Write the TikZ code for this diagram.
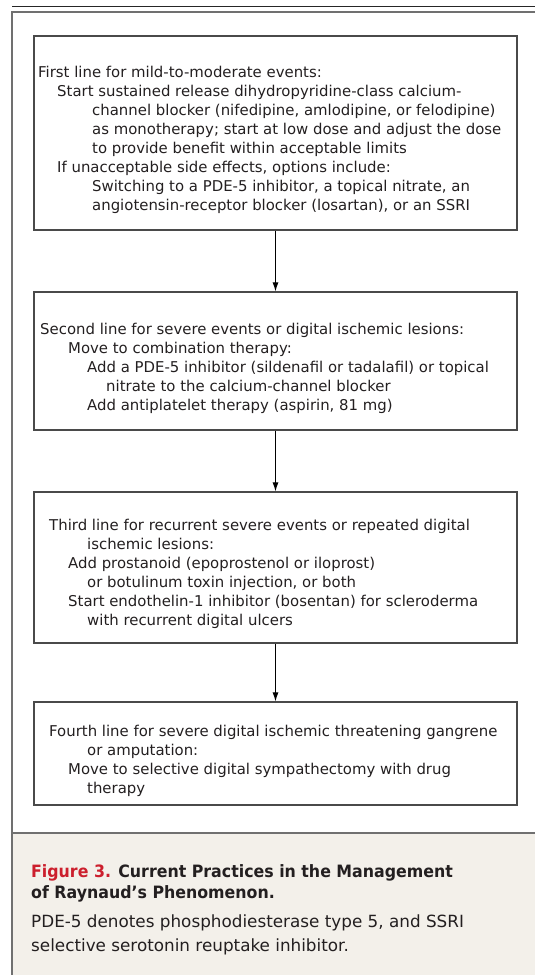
\documentclass[tikz,border=0pt]{standalone}
\usepackage{fontspec}
\setmainfont{DejaVu Sans}
\newfontfamily\titlefont[FakeStretch=0.93]{DejaVu Sans}
\usetikzlibrary{arrows.meta}
\definecolor{framecol}{HTML}{707070}
\definecolor{boxline}{HTML}{4A4A4A}
\definecolor{capbg}{HTML}{F3F0EA}
\definecolor{figred}{HTML}{CC1F2D}
\definecolor{txt}{HTML}{231F20}
\newcommand{\boxfont}{\fontsize{14.9}{19}\selectfont}
\newcommand{\capfont}{\fontsize{16.8}{22}\selectfont}
\newcommand{\captitlefont}{\fontsize{17}{22}\selectfont\titlefont\bfseries}
\begin{document}
\begin{tikzpicture}[x=1pt,y=-1pt,
  stepbox/.style={draw=boxline, line width=1.2pt, inner sep=0pt, minimum width=483pt},
  ln/.style={anchor=base west, inner sep=0pt, font=\boxfont, text=txt},
  captxt/.style={anchor=base west, inner sep=0pt, font=\capfont, text=txt},
  captitle/.style={anchor=base west, inner sep=0pt, font=\captitlefont, text=txt},
  flow/.style={draw=black, line width=1pt, -{Latex[length=9pt,width=6pt]}}
]
\useasboundingbox (0,0) rectangle (535,975);
\fill[capbg] (12,833) rectangle (535,975);
\draw[line width=1pt, draw=black!85] (12,6) -- (535,6);
\draw[framecol, line width=1.6pt] (535,12) -- (12,12) -- (12,975);
\draw[framecol, line width=1.8pt] (12,833) -- (535,833);

\node[stepbox, minimum height=194pt] (b1) at (275.5,133) {};
\node[stepbox, minimum height=138pt] (b2) at (275.5,361) {};
\node[stepbox, minimum height=151pt] (b3) at (275.5,567.5) {};
\node[stepbox, minimum height=103pt] (b4) at (275.5,753.5) {};

\draw[flow] (b1) -- (b2);
\draw[flow] (b2) -- (b3);
\draw[flow] (b3) -- (b4);

% box 1
\node[ln] (t1a) at (38,77) {First line for mild-to-moderate events:};
\node[ln] (t1b) at (57,96) {Start sustained release dihydropyridine-class calcium-};
\node[ln] (t1c) at (92,115) {channel blocker (nifedipine, amlodipine, or felodipine)};
\node[ln] (t1d) at (92,134) {as monotherapy; start at low dose and adjust the dose};
\node[ln] (t1e) at (92,153) {to provide benefit within acceptable limits};
\node[ln] (t1f) at (57,172) {If unacceptable side effects, options include:};
\node[ln] (t1g) at (92,191) {Switching to a PDE-5 inhibitor, a topical nitrate, an};
\node[ln] (t1h) at (92,210) {angiotensin-receptor blocker (losartan), or an SSRI};

% box 2
\node[ln] (t2a) at (40,334) {Second line for severe events or digital ischemic lesions:};
\node[ln] (t2b) at (68,353) {Move to combination therapy:};
\node[ln] (t2c) at (87,372) {Add a PDE-5 inhibitor (sildenafil or tadalafil) or topical};
\node[ln] (t2d) at (106,391) {nitrate to the calcium-channel blocker};
\node[ln] (t2e) at (87,410) {Add antiplatelet therapy (aspirin, 81 mg)};

% box 3
\node[ln] (t3a) at (49,530) {Third line for recurrent severe events or repeated digital};
\node[ln] (t3b) at (87,549) {ischemic lesions:};
\node[ln] (t3c) at (68,568) {Add prostanoid (epoprostenol or iloprost)};
\node[ln] (t3d) at (87,587) {or botulinum toxin injection, or both};
\node[ln] (t3e) at (68,606) {Start endothelin-1 inhibitor (bosentan) for scleroderma};
\node[ln] (t3f) at (87,625) {with recurrent digital ulcers};

% box 4
\node[ln] (t4a) at (49,736) {Fourth line for severe digital ischemic threatening gangrene};
\node[ln] (t4b) at (87,755) {or amputation:};
\node[ln] (t4c) at (68,774) {Move to selective digital sympathectomy with drug};
\node[ln] (t4d) at (87,793) {therapy};

% caption
\node[captitle] (c1) at (31,877) {\textcolor{figred}{Figure 3.} Current Practices in the Management};
\node[captitle] (c2) at (31,898) {of Raynaud’s Phenomenon.};
\node[captxt] (c3) at (31,927) {PDE-5 denotes phosphodiesterase type 5, and SSRI};
\node[captxt] (c4) at (31,951) {selective serotonin reuptake inhibitor.};
\end{tikzpicture}
\end{document}
